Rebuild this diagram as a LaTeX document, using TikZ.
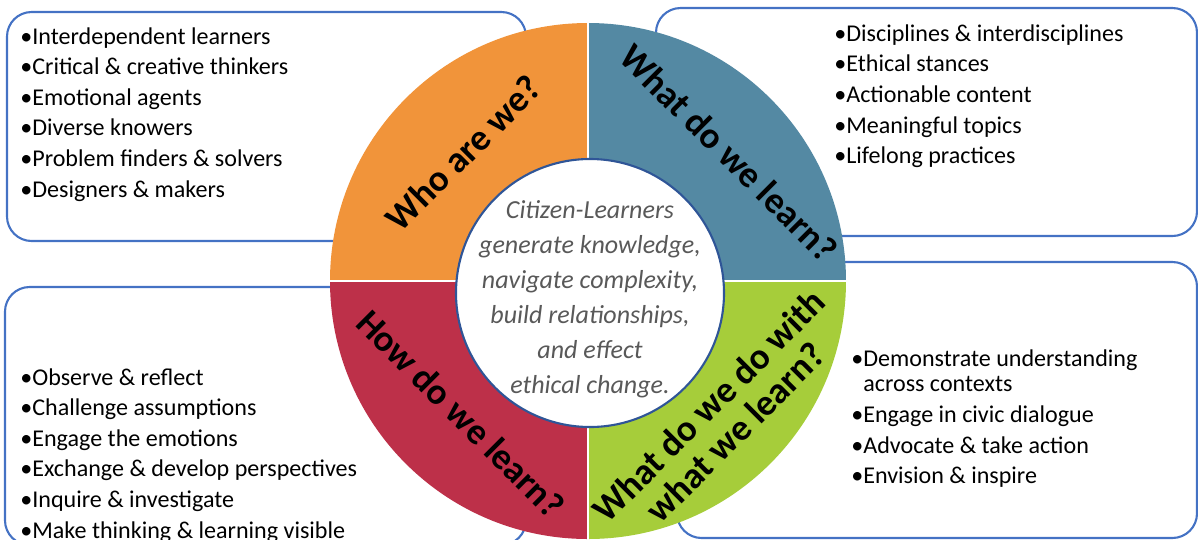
\documentclass[tikz,border=0pt]{standalone}
\usepackage{fontspec}
\setmainfont{Carlito}

\definecolor{boxblue}{HTML}{4472C4}
\definecolor{rimblue}{HTML}{2F5597}
\definecolor{quadorange}{HTML}{F1943A}
\definecolor{quadblue}{HTML}{5489A3}
\definecolor{quadred}{HTML}{BD3049}
\definecolor{quadgreen}{HTML}{A6CD3A}
\definecolor{midgray}{HTML}{595959}

\tikzset{
  infobox/.style={draw=boxblue, line width=1.2pt, rounded corners=14pt},
  item/.style={anchor=base west, inner sep=0pt, font=\fontsize{13.7}{16}\selectfont},
  quadlabel/.style={font=\bfseries\fontsize{21}{21.5}\selectfont, align=center, inner sep=0pt},
  hubtext/.style={anchor=base, inner sep=0pt, text=midgray, font=\itshape\fontsize{14.8}{18}\selectfont}
}

\begin{document}
\begin{tikzpicture}[x=0.02cm, y=-0.02cm]
  \useasboundingbox (0,0) rectangle (1198,539);
  \clip (0,0) rectangle (1198,539);

  % boxes behind the ring
  \draw[infobox] (7,12) rectangle (526,241);
  \draw[infobox] (656,8) rectangle (1197,236);
  \draw[infobox] (5,287) rectangle (526,545);
  \draw[infobox] (677,262) rectangle (1197,538);

  % ring
  \coordinate (O) at (588,281);
  \fill[quadorange] (O) -- ++(-258,0) arc[start angle=180, end angle=270, radius=258] -- cycle;
  \fill[quadblue]   (O) -- ++(0,-258) arc[start angle=270, end angle=360, radius=258] -- cycle;
  \fill[quadgreen]  (O) -- ++(258,0)  arc[start angle=0,   end angle=90,  radius=258] -- cycle;
  \fill[quadred]    (O) -- ++(0,258)  arc[start angle=90,  end angle=180, radius=258] -- cycle;
  \draw[white, line width=1.3pt] (O) ++(-262,0) -- ++(524,0);
  \draw[white, line width=1.3pt] (O) ++(0,-262) -- ++(0,524);
  \draw[rimblue, line width=1.2pt, fill=white] (590,293) circle[radius=134];

  \node[quadlabel, rotate=45]  (who)  at (463,153) {Who are we?};
  \node[quadlabel, rotate=-45] (what) at (729,153) {What do we learn?};
  \node[quadlabel, rotate=-45] (how)  at (461,414) {How do we learn?};
  \node[quadlabel, rotate=45]  (use)  at (722,419) {What do we do with\\what we learn?};

  % centre
  \foreach \txt [count=\i] in {Citizen-Learners, {generate knowledge,}, {navigate complexity,},
      {build relationships,}, and effect, ethical change.}
    \node[hubtext] (hub\i) at (590,183+35*\i) {\txt};

  % lists
  \foreach \txt [count=\i] in {Interdependent learners, Critical \& creative thinkers,
      Emotional agents, Diverse knowers, Problem finders \& solvers, Designers \& makers}
    \node[item] (who\i) at (20,13.4+30.6*\i) {•\txt};
  \foreach \txt [count=\i] in {Disciplines \& interdisciplines, Ethical stances,
      Actionable content, Meaningful topics, Lifelong practices}
    \node[item] (what\i) at (834,10.3+30.7*\i) {•\txt};
  \foreach \txt [count=\i] in {Observe \& reflect, Challenge assumptions, Engage the emotions,
      Exchange \& develop perspectives, Inquire \& investigate, Make thinking \& learning visible}
    \node[item] (how\i) at (20,354.4+30.6*\i) {•\txt};
  \node[item] (use1)  at (851,366) {•Demonstrate understanding};
  \node[item] (use1b) at (851,391) {\phantom{•}across contexts};
  \node[item] (use2)  at (851,422) {•Engage in civic dialogue};
  \node[item] (use3)  at (851,453) {•Advocate \& take action};
  \node[item] (use4)  at (851,483) {•Envision \& inspire};
\end{tikzpicture}
\end{document}
